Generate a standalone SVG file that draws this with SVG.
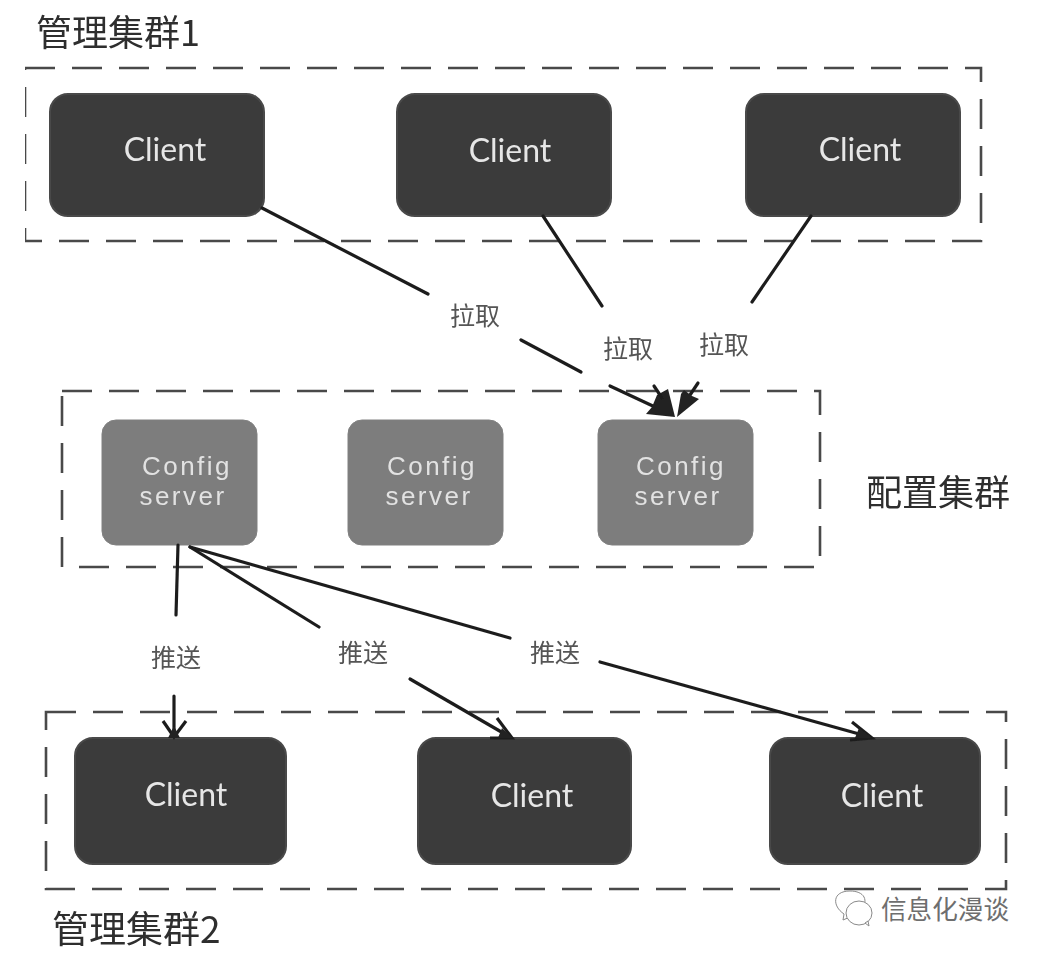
<svg xmlns="http://www.w3.org/2000/svg" width="1042" height="956" viewBox="0 0 1042 956">
<style>
.cluster{fill:none;stroke:#4a4a4a;stroke-width:2.6;stroke-dasharray:30 17}
.client{fill:#3b3b3b;stroke:#4a4a4a;stroke-width:2}
.server{fill:#7d7d7d;stroke:#808080;stroke-width:1}
.nt{font-family:"Lato","Liberation Sans",sans-serif;fill:#e6e6e6;text-anchor:middle}
.client-t{font-size:32px}
.server-t{font-family:"Liberation Sans",sans-serif;font-size:26px;letter-spacing:2.5px;fill:#e2e2e2}
.cjk{font-family:"Noto Sans CJK SC","Liberation Sans",sans-serif}
.title{font-size:36px;fill:#2e2e2e}
.lab{font-size:25px;fill:#555}
.wm{font-size:25.6px;fill:#6e6e6e}
.conn line{stroke:#1e1e1e;stroke-width:3.2;stroke-linecap:round}
.conn polyline{fill:none;stroke:#1e1e1e;stroke-width:3.2}
.conn polygon{fill:#222}
.icon *{fill:#fff;stroke:#8a8a8a;stroke-width:1}
</style>
<defs><filter id="scan" x="0" y="0" width="100%" height="100%"><feGaussianBlur stdDeviation="0.7"/></filter></defs>
<rect width="1042" height="956" fill="#fff"/>
<g filter="url(#scan)">
<g id="cluster-1">
<rect class="cluster" x="25" y="68" width="956" height="173"/>
<text class="cjk title" x="36" y="46">管理集群1</text>
</g>
<g id="cluster-config">
<rect class="cluster" x="62" y="391" width="758" height="176"/>
<text class="cjk title" x="866" y="506">配置集群</text>
</g>
<g id="cluster-2">
<rect class="cluster" x="46" y="712" width="960" height="177"/>
<text class="cjk title" x="52" y="943" style="font-size:37px">管理集群2</text>
</g>
<g id="client-1"><rect class="client" x="50" y="94" width="214" height="122" rx="18"/><text class="nt client-t" x="165" y="161">Client</text></g>
<g id="client-2"><rect class="client" x="397" y="94" width="214" height="122" rx="18"/><text class="nt client-t" x="510" y="162">Client</text></g>
<g id="client-3"><rect class="client" x="746" y="94" width="214" height="122" rx="18"/><text class="nt client-t" x="860" y="161">Client</text></g>
<g id="server-1"><rect class="server" x="102" y="420" width="155" height="125" rx="14"/><text class="nt server-t" x="187" y="475">Config</text><text class="nt server-t" x="183" y="505">server</text></g>
<g id="server-2"><rect class="server" x="348" y="420" width="155" height="125" rx="14"/><text class="nt server-t" x="432" y="475">Config</text><text class="nt server-t" x="429" y="505">server</text></g>
<g id="server-3"><rect class="server" x="598" y="420" width="155" height="125" rx="14"/><text class="nt server-t" x="681" y="475">Config</text><text class="nt server-t" x="678" y="505">server</text></g>
<g id="client-4"><rect class="client" x="75" y="738" width="211" height="126" rx="18"/><text class="nt client-t" x="186" y="806">Client</text></g>
<g id="client-5"><rect class="client" x="418" y="738" width="213" height="126" rx="18"/><text class="nt client-t" x="532" y="807">Client</text></g>
<g id="client-6"><rect class="client" x="770" y="738" width="210" height="126" rx="18"/><text class="nt client-t" x="882" y="807">Client</text></g>
<g id="connectors" class="conn">
<line x1="262" y1="208" x2="428" y2="294"/>
<line x1="521" y1="340" x2="581" y2="372"/>
<line x1="610" y1="386" x2="655" y2="407"/>
<polygon points="675,417 668,389 657,395 652,407 646,414"/>
<line x1="543" y1="216" x2="602" y2="306"/>
<line x1="654" y1="386" x2="662" y2="398"/>
<line x1="811" y1="216" x2="752" y2="302"/>
<line x1="698" y1="383" x2="688" y2="398"/>
<polygon points="677,417 699,399 692,396 684,390 681,394"/>
<line x1="178" y1="545" x2="176" y2="615"/>
<line x1="174" y1="696" x2="174" y2="736"/>
<polyline points="163,721 174,737 186,721"/>
<polygon points="168,738 174,726 180,738"/>
<line x1="190" y1="547" x2="319" y2="627"/>
<line x1="410" y1="679" x2="510" y2="737"/>
<polyline points="497,718 512,738 490,738"/>
<polygon points="512,738 498,738 502,728"/>
<line x1="190" y1="547" x2="510" y2="638"/>
<line x1="600" y1="662" x2="870" y2="737"/>
<polyline points="852,722 872,738 850,740"/>
<polygon points="872,738 855,738 859,728"/>
</g>
<g id="labels">
<text class="cjk lab" x="450" y="325">拉取</text>
<text class="cjk lab" x="603" y="358">拉取</text>
<text class="cjk lab" x="699" y="354">拉取</text>
<text class="cjk lab" x="151" y="667">推送</text>
<text class="cjk lab" x="338" y="662">推送</text>
<text class="cjk lab" x="530" y="662">推送</text>
</g>
</g>
<g id="watermark">
<g class="icon">
<path d="M850 917 L843 920 L844 914 C832 906 832 891 850 891 C864 891 870 900 860 912 Z"/>
<ellipse cx="859" cy="913" rx="13" ry="12"/>
<path d="M865 923 L869 926 L868 921 Z"/>
</g>
<text class="cjk wm" x="881" y="919">信息化漫谈</text>
</g>
</svg>
